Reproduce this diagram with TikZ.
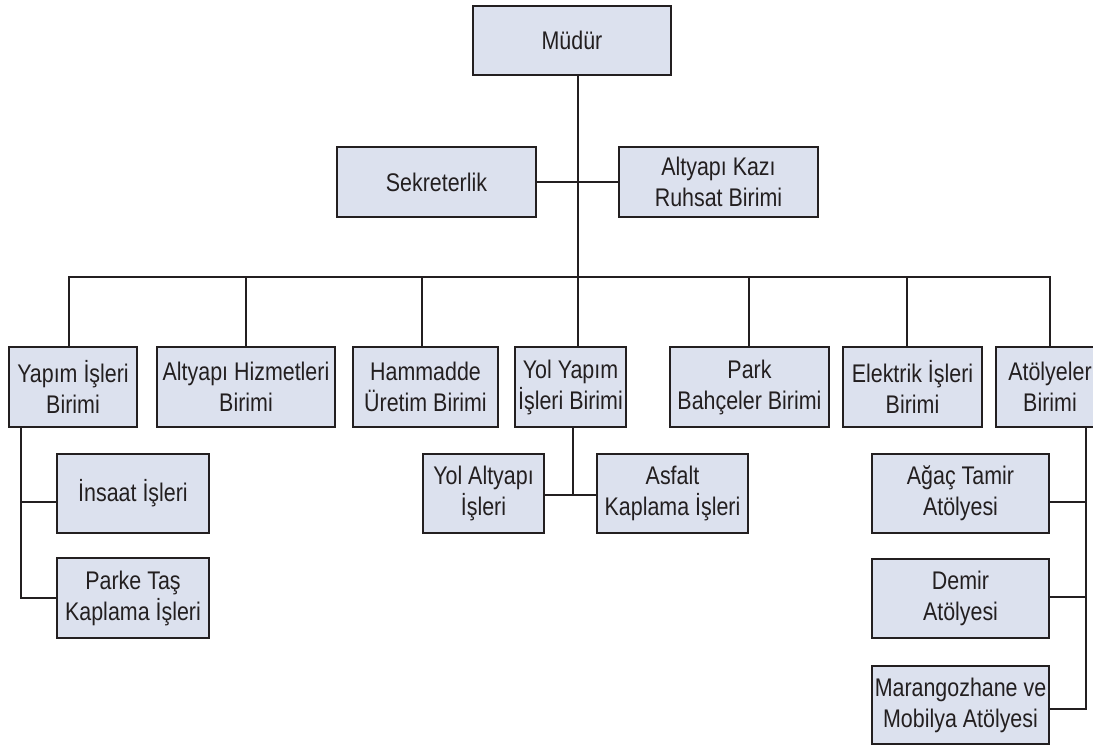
\documentclass[tikz,border=0pt]{standalone}
\usepackage{fontspec}
\setmainfont[FakeStretch=0.84]{Liberation Sans}
\definecolor{boxfill}{HTML}{DCE1EE}
\definecolor{ink}{HTML}{231F20}
\begin{document}
\begin{tikzpicture}[x=1pt,y=-1pt,
  box/.style={draw=ink, fill=boxfill, line width=2pt, align=center,
    font=\fontsize{25.5}{31}\selectfont, inner sep=0pt, text=ink},
  conn/.style={draw=ink, line width=2pt}]
\useasboundingbox (0,0) rectangle (1093,746);
% top
\node[box, minimum width=198pt, minimum height=69pt] (mudur) at (572,40.5) {Müdür};
\node[box, minimum width=199pt, minimum height=70pt] (sek) at (436.5,182) {Sekreterlik};
\node[box, minimum width=199pt, minimum height=70pt] (kazi) at (718.5,182) {Altyapı Kazı\\Ruhsat Birimi};
% row
\node[box, minimum width=128pt, minimum height=80pt] (yapim) at (73,387) {Yapım İşleri\\Birimi};
\node[box, minimum width=178pt, minimum height=80pt] (hizmet) at (246,387) {Altyapı Hizmetleri\\Birimi};
\node[box, minimum width=145pt, minimum height=80pt] (hammadde) at (425.5,387) {Hammadde\\Üretim Birimi};
\node[box, minimum width=111pt, minimum height=80pt] (yol) at (570.5,387) {Yol Yapım\\İşleri Birimi};
\node[box, minimum width=159pt, minimum height=80pt] (park) at (749.5,387) {Park\\Bahçeler Birimi};
\node[box, minimum width=139pt, minimum height=80pt] (elektrik) at (912.5,387) {Elektrik İşleri\\Birimi};
\node[box, minimum width=108pt, minimum height=80pt] (atolye) at (1050,387) {Atölyeler\\Birimi};
% sub
\node[box, minimum width=152pt, minimum height=79pt] (insaat) at (133,493.5) {İnsaat İşleri};
\node[box, minimum width=152pt, minimum height=80pt] (parke) at (133,598) {Parke Taş\\Kaplama İşleri};
\node[box, minimum width=121pt, minimum height=79pt] (yolalt) at (483.5,493.5) {Yol Altyapı\\İşleri};
\node[box, minimum width=151pt, minimum height=79pt] (asfalt) at (672.5,493.5) {Asfalt\\Kaplama İşleri};
\node[box, minimum width=177pt, minimum height=79pt] (agac) at (960.5,493.5) {Ağaç Tamir\\Atölyesi};
\node[box, minimum width=177pt, minimum height=79pt] (demir) at (960.5,598.5) {Demir\\Atölyesi};
\node[box, minimum width=177pt, minimum height=78pt] (marangoz) at (960.5,705) {Marangozhane ve\\Mobilya Atölyesi};
% coordinates
\coordinate (bus) at (578,277);
% connectors
\draw[conn] (mudur.south -| bus) -- (bus);
\draw[conn] (sek.east) -- (kazi.west);
\draw[conn] (yapim.north -| 69,0) |- (bus);
\draw[conn] (atolye.north -| 1050,0) |- (bus);
\draw[conn] (hizmet.north -| 246,0) -- (246,277);
\draw[conn] (hammadde.north -| 422,0) -- (422,277);
\draw[conn] (yol.north -| bus) -- (bus);
\draw[conn] (park.north -| 749,0) -- (749,277);
\draw[conn] (elektrik.north -| 907,0) -- (907,277);
% Yapım branch
\draw[conn] (yapim.south -| 21,0) |- (insaat.west |- 0,502);
\draw[conn] (21,500) |- (parke.west);
% Yol branch
\draw[conn] (yol.south -| 573,0) -- (573,495);
\draw[conn] (yolalt.east |- 0,495) -- (asfalt.west |- 0,495);
% Atölyeler branch
\draw[conn] (atolye.south -| 1086,0) |- (marangoz.east |- 0,709);
\draw[conn] (agac.east |- 0,502) -- (1086,502);
\draw[conn] (demir.east |- 0,597) -- (1086,597);
\end{tikzpicture}
\end{document}
